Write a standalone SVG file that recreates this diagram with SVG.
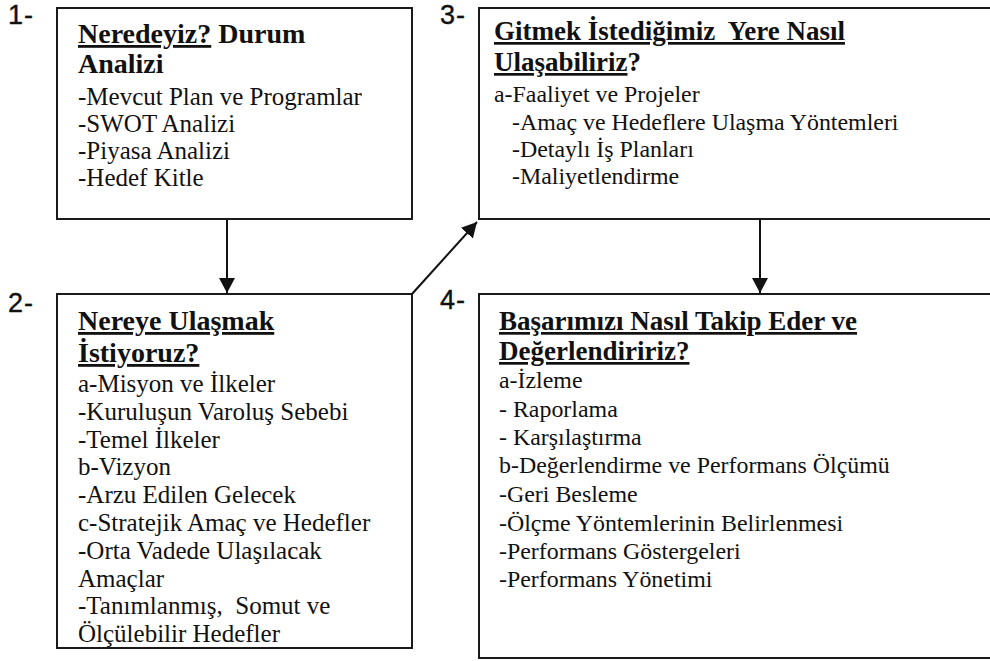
<svg xmlns="http://www.w3.org/2000/svg" width="990" height="661" viewBox="0 0 990 661">
<defs>
<style>
.box{fill:#fff;stroke:#1a1a1a;stroke-width:2}
.num{font-family:"Liberation Sans",Arial,sans-serif;font-size:27px;letter-spacing:1px;fill:#111;stroke:#111;stroke-width:0.4}
.h{font-family:"Liberation Serif","Times New Roman",serif;font-size:28px;font-weight:bold;fill:#111;white-space:pre}
.h2{font-family:"Liberation Serif","Times New Roman",serif;font-size:27px;font-weight:bold;fill:#111;white-space:pre}
.u{text-decoration:underline;text-decoration-thickness:2.5px}
.t{font-family:"Liberation Serif","Times New Roman",serif;font-size:25px;fill:#111;white-space:pre}
.t2{font-family:"Liberation Serif","Times New Roman",serif;font-size:23.9px;fill:#111;white-space:pre}
.con{stroke:#111;stroke-width:2;fill:none}
</style>
<marker id="ah" markerUnits="userSpaceOnUse" markerWidth="16" markerHeight="16" viewBox="0 0 16 16" refX="15" refY="8" orient="auto">
<path d="M0,0 L15,8 L0,16 Z" fill="#111"/>
</marker>
</defs>
<rect width="990" height="661" fill="#fff"/>

<g id="node1">
<rect class="box" x="57" y="8" width="355" height="211"/>
<text class="num" x="8" y="24">1-</text>
<text class="h" x="78" y="43"><tspan class="u">Neredeyiz?</tspan> Durum</text>
<text class="h" x="78" y="73">Analizi</text>
<text class="t" x="78" y="105">-Mevcut Plan ve Programlar</text>
<text class="t" x="78" y="132">-SWOT Analizi</text>
<text class="t" x="78" y="159">-Piyasa Analizi</text>
<text class="t" x="78" y="186">-Hedef Kitle</text>
</g>

<g id="node2">
<rect class="box" x="57" y="294" width="355" height="354"/>
<text class="num" x="8" y="312">2-</text>
<text class="h" x="78" y="330"><tspan class="u">Nereye Ulaşmak</tspan></text>
<text class="h" x="78" y="362"><tspan class="u">İstiyoruz?</tspan></text>
<text class="t" x="78" y="392">a-Misyon ve İlkeler</text>
<text class="t" x="78" y="419.8">-Kuruluşun Varoluş Sebebi</text>
<text class="t" x="78" y="447.6">-Temel İlkeler</text>
<text class="t" x="78" y="475.4">b-Vizyon</text>
<text class="t" x="78" y="503.2">-Arzu Edilen Gelecek</text>
<text class="t" x="78" y="531">c-Stratejik Amaç ve Hedefler</text>
<text class="t" x="78" y="558.8">-Orta Vadede Ulaşılacak</text>
<text class="t" x="78" y="586.6">Amaçlar</text>
<text class="t" x="78" y="614.4">-Tanımlanmış,  Somut ve</text>
<text class="t" x="78" y="642.2">Ölçülebilir Hedefler</text>
</g>

<g id="node3">
<rect class="box" x="479" y="8" width="530" height="211"/>
<text class="num" x="440" y="24">3-</text>
<text class="h2" x="494" y="40"><tspan class="u">Gitmek İstediğimiz  Yere Nasıl</tspan></text>
<text class="h2" x="494" y="71"><tspan class="u">Ulaşabiliriz</tspan>?</text>
<text class="t2" x="494" y="102">a-Faaliyet ve Projeler</text>
<text class="t2" x="512" y="130">-Amaç ve Hedeflere Ulaşma Yöntemleri</text>
<text class="t2" x="512" y="157">-Detaylı İş Planları</text>
<text class="t2" x="512" y="184">-Maliyetlendirme</text>
</g>

<g id="node4">
<rect class="box" x="479" y="294" width="530" height="364"/>
<text class="num" x="440" y="309">4-</text>
<text class="h2" x="499" y="330"><tspan class="u">Başarımızı Nasıl Takip Eder ve</tspan></text>
<text class="h2" x="499" y="360"><tspan class="u">Değerlendiririz?</tspan></text>
<text class="t2" x="499" y="388">a-İzleme</text>
<text class="t2" x="499" y="416.5">- Raporlama</text>
<text class="t2" x="499" y="445">- Karşılaştırma</text>
<text class="t2" x="499" y="473">b-Değerlendirme ve Performans Ölçümü</text>
<text class="t2" x="499" y="502">-Geri Besleme</text>
<text class="t2" x="499" y="530.5">-Ölçme Yöntemlerinin Belirlenmesi</text>
<text class="t2" x="499" y="559">-Performans Göstergeleri</text>
<text class="t2" x="499" y="587">-Performans Yönetimi</text>
</g>

<g id="connectors">
<line class="con" x1="227" y1="220" x2="227" y2="293" marker-end="url(#ah)"/>
<line class="con" x1="412" y1="294" x2="477" y2="222" marker-end="url(#ah)"/>
<line class="con" x1="760" y1="220" x2="760" y2="293" marker-end="url(#ah)"/>
</g>
</svg>
